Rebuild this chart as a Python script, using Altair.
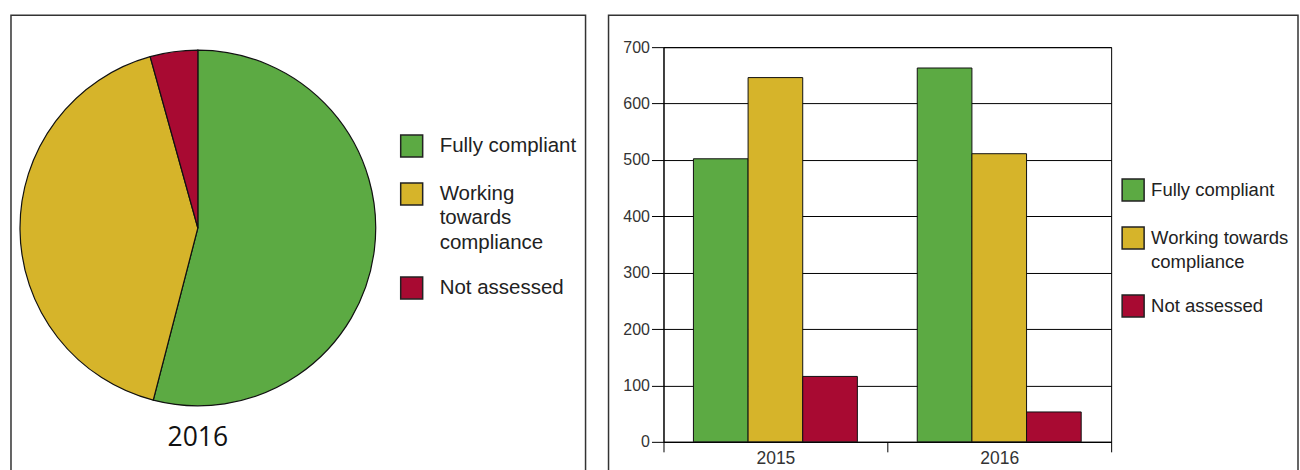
import altair as alt
import pandas as pd

categories = ["Fully compliant", "Working towards compliance", "Not assessed"]
years = ["2015", "2016"]
values_2015 = [502, 646, 116]
values_2016 = [663, 511, 53]
colors = ["#5CAA43", "#D6B42A", "#A80A32"]
y_ticks = [0, 100, 200, 300, 400, 500, 600, 700]

rows = []
for yr, vals in zip(years, [values_2015, values_2016]):
    for i, (c, v) in enumerate(zip(categories, vals)):
        rows.append({"year": yr, "status": c, "count": v, "order": i})
bar_df = pd.DataFrame(rows)
pie_df = bar_df[bar_df["year"] == years[1]].reset_index(drop=True)

FONT = "Liberation Sans"
color_scale = alt.Scale(domain=categories, range=colors)
frame_df = pd.DataFrame({"k": [0]})

# ---------------- left panel: pie ----------------
left_legend = alt.Legend(
    orient="none", legendX=389, legendY=87, title=None, padding=0,
    symbolType="square", symbolSize=484, symbolStrokeColor="#222",
    symbolStrokeWidth=1.5, symbolOpacity=1,
    labelFont=FONT, labelFontSize=20.5, labelColor="#222", labelOffset=16,
    rowPadding=20, labelLimit=300,
    labelExpr="datum.label == 'Working towards compliance' ? ['Working', 'towards', 'compliance'] : datum.label",
)

pie = alt.Chart(pie_df).mark_arc(
    radius=178, x=187, y=181, stroke="#111", strokeWidth=1.2
).encode(
    theta=alt.Theta("count:Q", stack=True),
    color=alt.Color("status:N", scale=color_scale, sort=categories, legend=left_legend),
    order=alt.Order("order:Q"),
)

year_text = alt.Chart(pd.DataFrame({"year": [years[1]]})).mark_text(
    font="Open Sans", fontSize=26.5, color="#111", x=187, y=391, baseline="middle"
).encode(text="year:N")

left_frame = alt.Chart(frame_df).mark_rect(
    filled=False, stroke="#333", strokeWidth=1.5
).encode(
    x=alt.value(0), x2=alt.value(575), y=alt.value(-32), y2=alt.value(424)
)

left = alt.layer(left_frame, pie, year_text).properties(
    width=575, height=395,
    view=alt.ViewBackground(strokeWidth=0),
)

# ---------------- right panel: bars ----------------
right_legend = alt.Legend(
    orient="none", legendX=458, legendY=131, title=None, padding=0,
    symbolType="square", symbolSize=484, symbolStrokeColor="#222",
    symbolStrokeWidth=1.5, symbolOpacity=1,
    labelFont=FONT, labelFontSize=18.5, labelColor="#222", labelOffset=6,
    rowPadding=20, labelLimit=300,
    labelExpr="datum.label == 'Working towards compliance' ? ['Working towards', 'compliance'] : datum.label",
)

bars = alt.Chart(bar_df).mark_bar(stroke="#111", strokeWidth=1).encode(
    x=alt.X(
        "year:N",
        scale=alt.Scale(paddingInner=0, paddingOuter=0),
        axis=alt.Axis(
            title=None, labelAngle=0, tickBand="extent", tickSize=10,
            tickColor="#000", domainColor="#000", labelFont=FONT,
            labelFontSize=17.5, labelColor="#333", labelPadding=-2,
        ),
    ),
    xOffset=alt.XOffset("status:N", sort=categories,
                        scale=alt.Scale(paddingInner=0, paddingOuter=0.548)),
    y=alt.Y(
        "count:Q",
        scale=alt.Scale(domain=[0, 700]),
        axis=alt.Axis(
            values=y_ticks, title=None, grid=True, gridColor="#000",
            gridOpacity=1, tickSize=12, tickColor="#000", domainColor="#000",
            labelFont=FONT, labelFontSize=16, labelColor="#333", labelPadding=2,
        ),
    ),
    color=alt.Color("status:N", scale=color_scale, sort=categories, legend=right_legend),
)

right_frame = alt.Chart(frame_df).mark_rect(
    filled=False, stroke="#333", strokeWidth=1.5
).encode(
    x=alt.value(-55), x2=alt.value(635), y=alt.value(-32), y2=alt.value(424)
)

right = alt.layer(right_frame, bars).properties(
    width=448, height=395,
    view=alt.ViewBackground(stroke="#000", strokeWidth=1),
)

chart = alt.hconcat(left, right, spacing=20).resolve_scale(
    color="independent"
).resolve_legend(color="independent").properties(
    padding={"left": 10, "top": 13, "right": 0, "bottom": 0}
).configure(style={"guide-label": {"lineHeight": 24.5}})

chart.save("out.html", embed_options={"renderer": "svg", "actions": False})
